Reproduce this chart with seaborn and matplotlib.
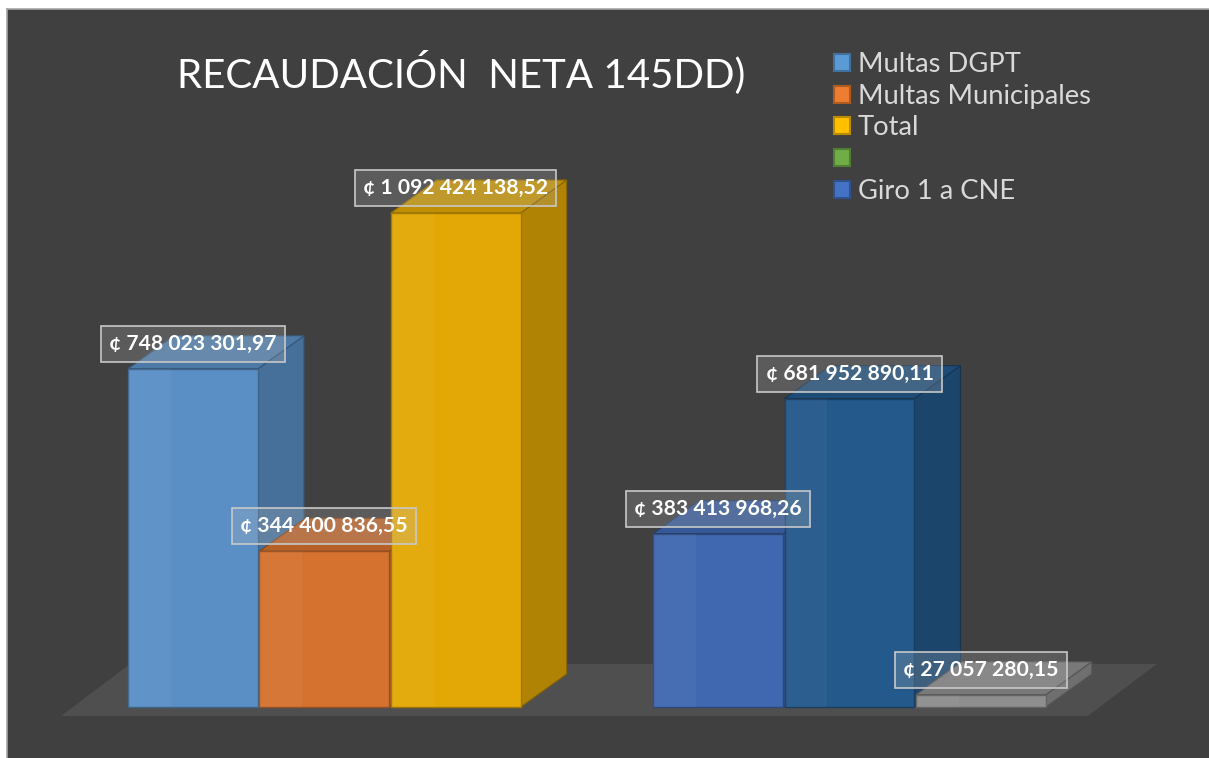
import numpy as np
import pandas as pd
import matplotlib
matplotlib.use("Agg")
import matplotlib.pyplot as plt
from matplotlib.patches import Polygon, Patch
from matplotlib.colors import to_rgb
import seaborn as sns


# Data
SLOT_ORDER = ["g1_dgpt", "g1_mun", "g1_total", "gap", "g2_giro1", "g2_s6", "g2_s7"]
SLOTS = ["g1_dgpt", "g1_mun", "g1_total", "g2_giro1", "g2_s6", "g2_s7"]
VALUES = [748023301.97, 344400836.55, 1092424138.52, 383413968.26, 681952890.11, 27057280.15]
FRONT_COLORS = ["#5A8FC5", "#D6722F", "#E3A806", "#4068B0", "#24598B", "#8E8E8E"]

LEGEND_NAMES = ["Multas DGPT", "Multas Municipales", "Total", "", "Giro 1 a CNE"]
LEGEND_COLORS = ["#5B9BD5", "#ED7D31", "#FFC000", "#70AD47", "#4472C4"]
LEGEND_EDGES = ["#41719C", "#AE5A21", "#BC8C00", "#507E32", "#2F528F"]

TITLE = "RECAUDACIÓN  NETA 145DD)"

# Style
BG = "#404040"
FLOOR = "#4F4F4F"
DEPTH_PX = (46, 33)          # bar depth in pixels
FLOOR_DEPTH_PX = (69, 52)
FLOOR_DROP_PX = 9


def shade(c, f):
    r, g, b = to_rgb(c)
    return (r * f, g * f, b * f)


def fmt(v):
    return "¢ " + f"{v:,.2f}".replace(",", " ").replace(".", ",")


df = pd.DataFrame({"slot": SLOTS, "value": VALUES})

sns.set_theme(style="dark")
plt.rcParams['font.family'] = ['Lato', 'DejaVu Sans']

fig = plt.figure(figsize=(12.09, 7.58), dpi=100)
fig.patch.set_facecolor("white")
ax = fig.add_axes([7 / 1209, 0, 1202 / 1209, 749 / 758])
ax.set_facecolor(BG)

sns.barplot(df, x="slot", y="value", hue="slot", order=SLOT_ORDER,
            palette=dict(zip(SLOTS, FRONT_COLORS)), width=0.99,
            legend=False, ax=ax, saturation=1)

ax.set_xlim(-1.4166, 7.738)
ax.set_ylim(-112.8e6, 1543.6e6)
ax.set_xticks([])
ax.set_yticks([])
ax.set_xlabel("")
ax.set_ylabel("")
for s in ["right", "bottom"]:
    ax.spines[s].set_visible(False)
for s in ["top", "left"]:
    ax.spines[s].set_color("#A6A6A6")
    ax.spines[s].set_linewidth(1.2)

# pixel -> data conversion
x0, x1 = ax.get_xlim()
y0, y1 = ax.get_ylim()
ux = (x1 - x0) / ax.bbox.width
uy = (y1 - y0) / ax.bbox.height
dx, dy = DEPTH_PX[0] * ux, DEPTH_PX[1] * uy

bars = sorted(ax.patches, key=lambda p: p.get_x())

# Floor
left = bars[0].get_x() - 0.51
right = bars[-1].get_x() + bars[-1].get_width() + 0.32
fy = -FLOOR_DROP_PX * uy
fdx, fdy = FLOOR_DEPTH_PX[0] * ux, FLOOR_DEPTH_PX[1] * uy
ax.add_patch(Polygon([(left, fy), (right, fy), (right + fdx, fy + fdy), (left + fdx, fy + fdy)],
                     closed=True, fc=FLOOR, ec="none", zorder=1))

# 3D faces
for i, (bar, col) in enumerate(zip(bars, FRONT_COLORS)):
    bx, bw, bh = bar.get_x(), bar.get_width(), bar.get_height()
    base = 3 + 3 * i
    side = Polygon([(bx + bw, 0), (bx + bw + dx, dy), (bx + bw + dx, bh + dy), (bx + bw, bh)],
                   closed=True, fc=shade(col, 0.78), ec=shade(col, 0.6), lw=0.8, zorder=base)
    top = Polygon([(bx, bh), (bx + bw, bh), (bx + bw + dx, bh + dy), (bx + dx, bh + dy)],
                  closed=True, fc=shade(col, 0.85), ec=shade(col, 0.6), lw=0.8, zorder=base + 1)
    ax.add_patch(side)
    ax.add_patch(top)
    bar.set_zorder(base + 2)
    bar.set_edgecolor(shade(col, 0.7))
    bar.set_linewidth(1)
    # light strip on the left of the front face
    ax.add_patch(plt.Rectangle((bx, 0), bw * 0.33, bh, fc="white", alpha=0.04,
                               ec="none", zorder=base + 2.5))

# Value labels
for bar, v in zip(bars, VALUES):
    ax.annotate(fmt(v), xy=(bar.get_x() + bar.get_width() / 2, bar.get_height()),
                xytext=(0, 18), textcoords="offset points", ha="center", va="center",
                color="white", fontsize=15.2, fontweight="bold", zorder=50,
                bbox=dict(boxstyle="square,pad=0.38", fc=(0.75, 0.75, 0.75, 0.22),
                          ec="#C8C8C8", lw=1.2))

# Title
fig.text(461 / 1209, 1 - 72 / 758, TITLE, ha="center", va="center",
         color="white", fontsize=29)

# Legend
handles = [Patch(fc=c, ec=e, lw=1.5) for c, e in zip(LEGEND_COLORS, LEGEND_EDGES)]
leg = fig.legend(handles, LEGEND_NAMES, loc="upper left",
                 bbox_to_anchor=(834 / 1209, 1 - 52 / 758), frameon=False,
                 fontsize=19.7, handlelength=0.58, handleheight=0.58,
                 handletextpad=0.3, labelspacing=0.245, borderpad=0, borderaxespad=0)
for t in leg.get_texts():
    t.set_color("#D9D9D9")

fig.savefig("out.png", dpi=100, facecolor="white")
